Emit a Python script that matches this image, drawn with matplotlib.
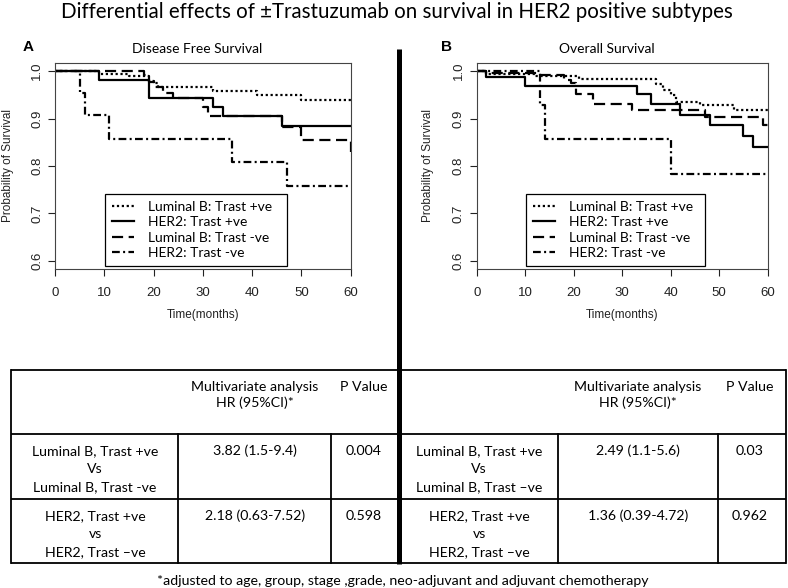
import matplotlib
matplotlib.use("Agg")
import matplotlib.pyplot as plt

# ---------------- data ----------------
months_ticks = [0, 10, 20, 30, 40, 50, 60]
surv_ticks = [0.6, 0.7, 0.8, 0.9, 1.0]

series_labels = ["Luminal B: Trast +ve", "HER2: Trast +ve",
                 "Luminal B: Trast -ve", "HER2: Trast -ve"]

# Disease free survival (panel A)
dfs_lumb_pos_t = [0, 9, 15, 19, 20, 21, 32, 41, 50, 60]
dfs_lumb_pos_s = [1.0, 0.995, 0.99, 0.98, 0.975, 0.967, 0.958, 0.950, 0.940, 0.940]
dfs_her2_pos_t = [0, 9, 19, 32, 34, 46, 60]
dfs_her2_pos_s = [1.0, 0.982, 0.944, 0.925, 0.905, 0.885, 0.885]
dfs_lumb_neg_t = [0, 18, 19, 20, 22, 24, 30, 31, 46, 50, 60]
dfs_lumb_neg_s = [1.0, 0.992, 0.978, 0.967, 0.955, 0.943, 0.925, 0.905, 0.882, 0.855, 0.83]
dfs_her2_neg_t = [0, 5, 6, 11, 36, 47, 60]
dfs_her2_neg_s = [1.0, 0.955, 0.908, 0.858, 0.808, 0.758, 0.758]

# Overall survival (panel B)
os_lumb_pos_t = [0, 2, 12, 21, 37, 38.5, 40, 41, 46, 53, 60]
os_lumb_pos_s = [1.0, 0.995, 0.989, 0.983, 0.973, 0.96, 0.95, 0.935, 0.929, 0.918, 0.918]
os_her2_pos_t = [0, 2, 10, 33, 36, 42, 48, 55, 57, 60]
os_her2_pos_s = [1.0, 0.988, 0.969, 0.952, 0.931, 0.908, 0.886, 0.863, 0.841, 0.841]
os_lumb_neg_t = [0, 2, 13, 18, 19.5, 20.5, 24, 32, 47, 59, 60]
os_lumb_neg_s = [1.0, 0.997, 0.992, 0.982, 0.975, 0.953, 0.931, 0.918, 0.903, 0.887, 0.887]
os_her2_neg_t = [0, 13, 14, 40, 60]
os_her2_neg_s = [1.0, 0.928, 0.857, 0.784, 0.784]

# Table content
header_hr = ["Multivariate analysis", "HR (95%CI)*"]
header_p = "P Value"
dfs_row_labels = [["Luminal B, Trast +ve", "Vs", "Luminal B, Trast -ve"],
                  ["HER2, Trast +ve", "vs", "HER2, Trast \u2013ve"]]
dfs_hr = ["3.82 (1.5-9.4)", "2.18 (0.63-7.52)"]
dfs_p = ["0.004", "0.598"]
os_row_labels = [["Luminal B, Trast +ve", "Vs", "Luminal B, Trast \u2013ve"],
                 ["HER2, Trast +ve", "vs", "HER2, Trast \u2013ve"]]
os_hr = ["2.49 (1.1-5.6)", "1.36 (0.39-4.72)"]
os_p = ["0.03", "0.962"]

title = "Differential effects of \u00b1Trastuzumab on survival in HER2 positive subtypes"
footnote = "*adjusted to age, group, stage ,grade, neo-adjuvant and adjuvant chemotherapy"

# ---------------- styling ----------------
W, H = 788, 588
CAL = ["Lato", "DejaVu Sans"]
ARI = ["Liberation Sans", "DejaVu Sans"]
styles = [dict(dashes=(1.0, 1.2)), dict(linestyle="-"),
          dict(dashes=(5, 2.5)), dict(dashes=(3.5, 1.5, 0.9, 1.5))]
LW = 1.6

fig = plt.figure(figsize=(W / 100, H / 100), dpi=100)
bg = fig.add_axes([0, 0, 1, 1])
bg.set_xlim(0, W)
bg.set_ylim(H, 0)
bg.axis("off")


def px_rect(l, t, r, b):
    return [l / W, 1 - b / H, (r - l) / W, (b - t) / H]


def km_panel(rect, data):
    ax = fig.add_axes(rect)
    handles = []
    for (t, s), st in zip(data, styles):
        ln, = ax.step(t, s, where="post", color="black", lw=LW, **st)
        handles.append(ln)
    ax.set_xlim(0, 60)
    ax.set_ylim(0.582, 1.018)
    ax.set_xticks(months_ticks)
    ax.set_xticklabels([str(v) for v in months_ticks], fontfamily=ARI)
    ax.set_yticks(surv_ticks)
    ax.set_yticklabels([f"{v:.1f}" for v in surv_ticks], fontfamily=ARI,
                       rotation=90, va="center")
    ax.tick_params(direction="out", length=5, width=0.8, labelsize=9.5,
                   colors="#222222")
    ax.tick_params(axis="x", pad=8)
    ax.tick_params(axis="y", pad=3.5)
    for sp in ax.spines.values():
        sp.set_color("#444444")
        sp.set_linewidth(0.8)
    leg = ax.legend(handles, series_labels, loc="lower left",
                    bbox_to_anchor=(0.169, 0.016, 0.616, 0.4), mode="expand",
                    borderaxespad=0, frameon=True, fancybox=False,
                    framealpha=1, edgecolor="black",
                    prop=dict(family=CAL, size=10),
                    handlelength=1.6, handletextpad=1.0, borderpad=0.5,
                    labelspacing=0.25)
    leg.get_frame().set_linewidth(0.9)
    return ax


axA = km_panel(px_rect(55, 62.7, 350.7, 269.3),
               [(dfs_lumb_pos_t, dfs_lumb_pos_s), (dfs_her2_pos_t, dfs_her2_pos_s),
                (dfs_lumb_neg_t, dfs_lumb_neg_s), (dfs_her2_neg_t, dfs_her2_neg_s)])
axB = km_panel(px_rect(476.7, 62.7, 767.7, 269.3),
               [(os_lumb_pos_t, os_lumb_pos_s), (os_her2_pos_t, os_her2_pos_s),
                (os_lumb_neg_t, os_lumb_neg_s), (os_her2_neg_t, os_her2_neg_s)])

# ---------------- texts around the panels ----------------
bg.text(397, 12, title, ha="center", va="center", fontsize=14.8, family=CAL)
bg.text(28, 47, "A", ha="center", va="center", fontsize=11,
        fontweight="bold", family=ARI)
bg.text(447, 47, "B", ha="center", va="center", fontsize=11,
        fontweight="bold", family=ARI)
bg.text(197, 49, "Disease Free Survival", ha="center", va="center",
        fontsize=10, family=CAL)
bg.text(607, 49, "Overall Survival", ha="center", va="center",
        fontsize=10, family=CAL)
for x in (8, 428):
    bg.text(x, 166, "Probability of Survival", ha="center", va="center",
            rotation=90, fontsize=8.5, family=ARI, color="#222222")
for x in (203, 622):
    bg.text(x, 315, "Time(months)", ha="center", va="center",
            fontsize=8.5, family=ARI, color="#222222")

# ---------------- table ----------------
TLW = 1.3
ys = [370, 434, 499.3, 562.7]
for y in ys:
    bg.plot([11, 786], [y, y], color="black", lw=TLW, solid_capstyle="butt")
for x in (11, 786):
    bg.plot([x, x], [370, 562.7], color="black", lw=TLW)
for x in (178.3, 331, 558.3, 717.7):
    bg.plot([x, x], [434, 562.7], color="black", lw=TLW)
# thick divider
bg.plot([399.5, 399.5], [49, 564], color="black", lw=3.6, solid_capstyle="butt")

FS = 10.2


def fill_table(lab_x, hr_x, p_x, labels, hrs, ps):
    bg.text(hr_x, 387, header_hr[0], ha="center", va="center", fontsize=FS, family=CAL)
    bg.text(hr_x, 403, header_hr[1], ha="center", va="center", fontsize=FS, family=CAL)
    bg.text(p_x, 387, header_p, ha="center", va="center", fontsize=FS, family=CAL)
    for r, (lab, hr, p) in enumerate(zip(labels, hrs, ps)):
        y0 = 450.7 if r == 0 else 516
        for k, line in enumerate(lab):
            bg.text(lab_x, y0 + k * 18, line, ha="center", va="center",
                    fontsize=FS, family=CAL)
        bg.text(hr_x, y0, hr, ha="center", va="center", fontsize=FS, family=CAL)
        bg.text(p_x, y0, p, ha="center", va="center", fontsize=FS, family=CAL)


fill_table(95, 255, 364, dfs_row_labels, dfs_hr, dfs_p)
fill_table(479, 638, 750, os_row_labels, os_hr, os_p)

bg.text(403, 581, footnote, ha="center", va="center", fontsize=FS, family=CAL)

fig.savefig("out.png", dpi=100)
